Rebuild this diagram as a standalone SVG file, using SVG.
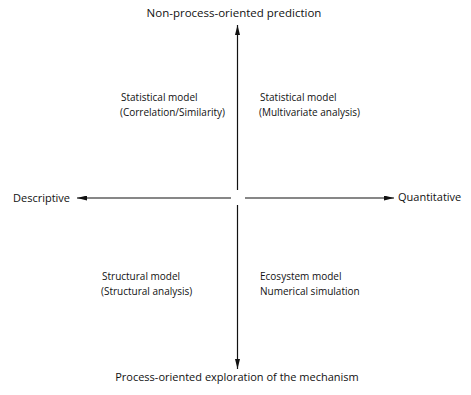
<svg xmlns="http://www.w3.org/2000/svg" width="471" height="395" viewBox="0 0 471 395">
<defs>
<marker id="ah" viewBox="0 0 10 6" refX="10" refY="3" markerWidth="10" markerHeight="5" markerUnits="userSpaceOnUse" orient="auto" preserveAspectRatio="none">
<path d="M0,0 L10,3 L0,6 Z" fill="#111"/>
</marker>
<style>
text{font-family:"Open Sans","Liberation Sans",sans-serif;font-size:11px;fill:#111}
.q{font-size:10px}
.ax{stroke:#111;stroke-width:1.2;fill:none}
</style>
</defs>
<rect width="471" height="395" fill="#fff"/>
<g id="connectors">
<line class="ax" x1="237.5" y1="190" x2="237.5" y2="25" marker-end="url(#ah)"/>
<line class="ax" x1="237.5" y1="205" x2="237.5" y2="369" marker-end="url(#ah)"/>
<line class="ax" x1="231" y1="198" x2="77" y2="198" marker-end="url(#ah)"/>
<line class="ax" x1="245" y1="198" x2="394" y2="198" marker-end="url(#ah)"/>
</g>
<g id="top"><text x="234" y="17" text-anchor="middle" style="font-size:11.5px">Non-process-oriented prediction</text></g>
<g id="bottom"><text x="237" y="381" text-anchor="middle">Process-oriented exploration of the mechanism</text></g>
<g id="left"><text x="13" y="202">Descriptive</text></g>
<g id="right"><text x="398" y="201">Quantitative</text></g>
<g id="q1"><text class="q" x="121" y="101">Statistical model</text><text class="q" x="120" y="116">(Correlation/Similarity)</text></g>
<g id="q2"><text class="q" x="260" y="101">Statistical model</text><text class="q" x="259" y="116">(Multivariate analysis)</text></g>
<g id="q3"><text class="q" x="102" y="280">Structural model</text><text class="q" x="101" y="295">(Structural analysis)</text></g>
<g id="q4"><text class="q" x="260" y="280">Ecosystem model</text><text class="q" x="260" y="295">Numerical simulation</text></g>
</svg>
